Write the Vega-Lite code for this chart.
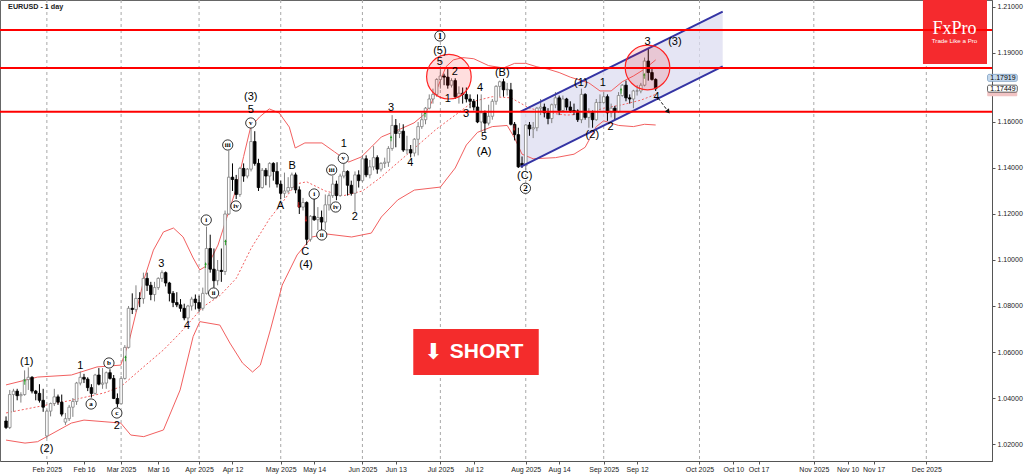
{
"$schema":"https://vega.github.io/schema/vega-lite/v6.json",
"width":992,"height":461,
"autosize":"none",
"padding":{"left":0,"top":0,"right":32,"bottom":13},
"background":"#ffffff",
"config":{"view":{"stroke":"#666666"},"font":"Liberation Sans"},
"datasets":{
"candles":[
{"t":0,"o":1.0300,"h":1.0320,"l":1.0265,"c":1.0272},
{"t":1,"o":1.0272,"h":1.0435,"l":1.0265,"c":1.0415},
{"t":2,"o":1.0415,"h":1.0440,"l":1.0340,"c":1.0430},
{"t":3,"o":1.0430,"h":1.0440,"l":1.0390,"c":1.0410},
{"t":4,"o":1.0410,"h":1.0425,"l":1.0380,"c":1.0415},
{"t":5,"o":1.0415,"h":1.0520,"l":1.0410,"c":1.0480},
{"t":6,"o":1.0480,"h":1.0533,"l":1.0435,"c":1.0490},
{"t":7,"o":1.0490,"h":1.0495,"l":1.0420,"c":1.0430},
{"t":8,"o":1.0430,"h":1.0435,"l":1.0390,"c":1.0420},
{"t":9,"o":1.0420,"h":1.0460,"l":1.0380,"c":1.0390},
{"t":10,"o":1.0390,"h":1.0440,"l":1.0340,"c":1.0360},
{"t":11,"o":1.0235,"h":1.0350,"l":1.0225,"c":1.0343},
{"t":12,"o":1.0343,"h":1.0380,"l":1.0320,"c":1.0376},
{"t":13,"o":1.0376,"h":1.0440,"l":1.0365,"c":1.0405},
{"t":14,"o":1.0405,"h":1.0415,"l":1.0370,"c":1.0382},
{"t":15,"o":1.0382,"h":1.0415,"l":1.0320,"c":1.0330},
{"t":16,"o":1.0295,"h":1.0335,"l":1.0283,"c":1.0310},
{"t":17,"o":1.0310,"h":1.0370,"l":1.0300,"c":1.0360},
{"t":18,"o":1.0360,"h":1.0400,"l":1.0318,"c":1.0385},
{"t":19,"o":1.0385,"h":1.0470,"l":1.0370,"c":1.0465},
{"t":20,"o":1.0465,"h":1.0515,"l":1.0455,"c":1.0490},
{"t":21,"o":1.0490,"h":1.0505,"l":1.0465,"c":1.0482},
{"t":22,"o":1.0482,"h":1.0490,"l":1.0430,"c":1.0445},
{"t":23,"o":1.0445,"h":1.0460,"l":1.0402,"c":1.0420},
{"t":24,"o":1.0420,"h":1.0505,"l":1.0415,"c":1.0500},
{"t":25,"o":1.0500,"h":1.0530,"l":1.0455,"c":1.0460},
{"t":26,"o":1.0460,"h":1.0530,"l":1.0440,"c":1.0465},
{"t":27,"o":1.0465,"h":1.0515,"l":1.0440,"c":1.0510},
{"t":28,"o":1.0510,"h":1.0525,"l":1.0480,"c":1.0485},
{"t":29,"o":1.0485,"h":1.0500,"l":1.0395,"c":1.0398},
{"t":30,"o":1.0398,"h":1.0420,"l":1.0360,"c":1.0375},
{"t":31,"o":1.0375,"h":1.0495,"l":1.0375,"c":1.0485},
{"t":32,"o":1.0485,"h":1.0630,"l":1.0480,"c":1.0620},
{"t":33,"o":1.0620,"h":1.0800,"l":1.0615,"c":1.0790},
{"t":34,"o":1.0790,"h":1.0855,"l":1.0765,"c":1.0785},
{"t":35,"o":1.0785,"h":1.0890,"l":1.0775,"c":1.0833},
{"t":36,"o":1.0833,"h":1.0860,"l":1.0795,"c":1.0832},
{"t":37,"o":1.0832,"h":1.0945,"l":1.0810,"c":1.0920},
{"t":38,"o":1.0920,"h":1.0945,"l":1.0865,"c":1.0890},
{"t":39,"o":1.0890,"h":1.0905,"l":1.0825,"c":1.0850},
{"t":40,"o":1.0850,"h":1.0905,"l":1.0820,"c":1.0880},
{"t":41,"o":1.0880,"h":1.0925,"l":1.0870,"c":1.0920},
{"t":42,"o":1.0920,"h":1.0955,"l":1.0905,"c":1.0945},
{"t":43,"o":1.0945,"h":1.0950,"l":1.0885,"c":1.0900},
{"t":44,"o":1.0900,"h":1.0905,"l":1.0820,"c":1.0855},
{"t":45,"o":1.0855,"h":1.0865,"l":1.0795,"c":1.0815},
{"t":46,"o":1.0815,"h":1.0860,"l":1.0795,"c":1.0805},
{"t":47,"o":1.0805,"h":1.0830,"l":1.0775,"c":1.0790},
{"t":48,"o":1.0790,"h":1.0810,"l":1.0738,"c":1.0748},
{"t":49,"o":1.0748,"h":1.0805,"l":1.0733,"c":1.0800},
{"t":50,"o":1.0800,"h":1.0840,"l":1.0780,"c":1.0830},
{"t":51,"o":1.0830,"h":1.0850,"l":1.0785,"c":1.0815},
{"t":52,"o":1.0815,"h":1.0845,"l":1.0775,"c":1.0790},
{"t":53,"o":1.0790,"h":1.0880,"l":1.0780,"c":1.0855},
{"t":54,"o":1.0855,"h":1.1145,"l":1.0850,"c":1.1050},
{"t":55,"o":1.1050,"h":1.1110,"l":1.0945,"c":1.0960},
{"t":56,"o":1.0960,"h":1.1050,"l":1.0880,"c":1.0910},
{"t":57,"o":1.0910,"h":1.1000,"l":1.0890,"c":1.0955},
{"t":58,"o":1.0955,"h":1.1050,"l":1.0905,"c":1.0950},
{"t":59,"o":1.0950,"h":1.1215,"l":1.0935,"c":1.1200},
{"t":60,"o":1.1200,"h":1.1475,"l":1.1195,"c":1.1360},
{"t":61,"o":1.1360,"h":1.1420,"l":1.1300,"c":1.1350},
{"t":62,"o":1.1350,"h":1.1370,"l":1.1265,"c":1.1285},
{"t":63,"o":1.1285,"h":1.1405,"l":1.1275,"c":1.1398},
{"t":64,"o":1.1398,"h":1.1420,"l":1.1340,"c":1.1365},
{"t":65,"o":1.1365,"h":1.1400,"l":1.1355,"c":1.1395},
{"t":66,"o":1.1395,"h":1.1573,"l":1.1385,"c":1.1515},
{"t":67,"o":1.1515,"h":1.1560,"l":1.1410,"c":1.1420},
{"t":68,"o":1.1420,"h":1.1440,"l":1.1300,"c":1.1315},
{"t":69,"o":1.1315,"h":1.1400,"l":1.1310,"c":1.1390},
{"t":70,"o":1.1390,"h":1.1400,"l":1.1325,"c":1.1365},
{"t":71,"o":1.1365,"h":1.1425,"l":1.1315,"c":1.1420},
{"t":72,"o":1.1420,"h":1.1425,"l":1.1345,"c":1.1385},
{"t":73,"o":1.1385,"h":1.1425,"l":1.1315,"c":1.1330},
{"t":74,"o":1.1330,"h":1.1345,"l":1.1265,"c":1.1290},
{"t":75,"o":1.1290,"h":1.1380,"l":1.1270,"c":1.1300},
{"t":76,"o":1.1300,"h":1.1360,"l":1.1290,"c":1.1315},
{"t":77,"o":1.1315,"h":1.1380,"l":1.1305,"c":1.1370},
{"t":78,"o":1.1370,"h":1.1380,"l":1.1290,"c":1.1305},
{"t":79,"o":1.1305,"h":1.1320,"l":1.1200,"c":1.1230},
{"t":80,"o":1.1230,"h":1.1270,"l":1.1215,"c":1.1250},
{"t":81,"o":1.1250,"h":1.1255,"l":1.1065,"c":1.1090},
{"t":82,"o":1.1090,"h":1.1195,"l":1.1080,"c":1.1190},
{"t":83,"o":1.1190,"h":1.1266,"l":1.1170,"c":1.1175},
{"t":84,"o":1.1175,"h":1.1230,"l":1.1130,"c":1.1185},
{"t":85,"o":1.1185,"h":1.1215,"l":1.1130,"c":1.1165},
{"t":86,"o":1.1165,"h":1.1285,"l":1.1130,"c":1.1240},
{"t":87,"o":1.1240,"h":1.1290,"l":1.1215,"c":1.1280},
{"t":88,"o":1.1280,"h":1.1365,"l":1.1270,"c":1.1330},
{"t":89,"o":1.1330,"h":1.1345,"l":1.1260,"c":1.1280},
{"t":90,"o":1.1280,"h":1.1375,"l":1.1275,"c":1.1365},
{"t":91,"o":1.1365,"h":1.1420,"l":1.1355,"c":1.1385},
{"t":92,"o":1.1385,"h":1.1390,"l":1.1280,"c":1.1325},
{"t":93,"o":1.1325,"h":1.1345,"l":1.1280,"c":1.1290},
{"t":94,"o":1.1290,"h":1.1385,"l":1.1210,"c":1.1370},
{"t":95,"o":1.1370,"h":1.1390,"l":1.1315,"c":1.1345},
{"t":96,"o":1.1345,"h":1.1455,"l":1.1340,"c":1.1440},
{"t":97,"o":1.1440,"h":1.1455,"l":1.1360,"c":1.1370},
{"t":98,"o":1.1370,"h":1.1435,"l":1.1355,"c":1.1405},
{"t":99,"o":1.1405,"h":1.1495,"l":1.1390,"c":1.1445},
{"t":100,"o":1.1445,"h":1.1455,"l":1.1375,"c":1.1395},
{"t":101,"o":1.1395,"h":1.1425,"l":1.1385,"c":1.1420},
{"t":102,"o":1.1420,"h":1.1445,"l":1.1400,"c":1.1425},
{"t":103,"o":1.1425,"h":1.1495,"l":1.1405,"c":1.1485},
{"t":104,"o":1.1485,"h":1.1630,"l":1.1475,"c":1.1585},
{"t":105,"o":1.1585,"h":1.1613,"l":1.1490,"c":1.1550},
{"t":106,"o":1.1550,"h":1.1595,"l":1.1530,"c":1.1560},
{"t":107,"o":1.1560,"h":1.1590,"l":1.1470,"c":1.1478},
{"t":108,"o":1.1478,"h":1.1540,"l":1.1460,"c":1.1480},
{"t":109,"o":1.1480,"h":1.1500,"l":1.1446,"c":1.1465},
{"t":110,"o":1.1465,"h":1.1530,"l":1.1450,"c":1.1525},
{"t":111,"o":1.1525,"h":1.1600,"l":1.1455,"c":1.1580},
{"t":112,"o":1.1580,"h":1.1640,"l":1.1570,"c":1.1610},
{"t":113,"o":1.1610,"h":1.1665,"l":1.1590,"c":1.1660},
{"t":114,"o":1.1660,"h":1.1720,"l":1.1655,"c":1.1700},
{"t":115,"o":1.1700,"h":1.1745,"l":1.1680,"c":1.1720},
{"t":116,"o":1.1720,"h":1.1790,"l":1.1710,"c":1.1785},
{"t":117,"o":1.1785,"h":1.1830,"l":1.1745,"c":1.1800},
{"t":118,"o":1.1800,"h":1.1810,"l":1.1760,"c":1.1795},
{"t":119,"o":1.1795,"h":1.1830,"l":1.1745,"c":1.1760},
{"t":120,"o":1.1760,"h":1.1790,"l":1.1750,"c":1.1780},
{"t":121,"o":1.1780,"h":1.1790,"l":1.1700,"c":1.1710},
{"t":122,"o":1.1710,"h":1.1755,"l":1.1680,"c":1.1725},
{"t":123,"o":1.1725,"h":1.1750,"l":1.1680,"c":1.1720},
{"t":124,"o":1.1720,"h":1.1750,"l":1.1685,"c":1.1700},
{"t":125,"o":1.1700,"h":1.1720,"l":1.1660,"c":1.1690},
{"t":126,"o":1.1690,"h":1.1700,"l":1.1650,"c":1.1665},
{"t":127,"o":1.1665,"h":1.1720,"l":1.1595,"c":1.1600},
{"t":128,"o":1.1600,"h":1.1720,"l":1.1556,"c":1.1640},
{"t":129,"o":1.1640,"h":1.1650,"l":1.1555,"c":1.1595},
{"t":130,"o":1.1595,"h":1.1675,"l":1.1585,"c":1.1625},
{"t":131,"o":1.1625,"h":1.1700,"l":1.1610,"c":1.1690},
{"t":132,"o":1.1690,"h":1.1760,"l":1.1675,"c":1.1755},
{"t":133,"o":1.1755,"h":1.1780,"l":1.1710,"c":1.1775},
{"t":134,"o":1.1775,"h":1.1788,"l":1.1710,"c":1.1740},
{"t":135,"o":1.1740,"h":1.1770,"l":1.1715,"c":1.1742},
{"t":136,"o":1.1740,"h":1.1770,"l":1.1585,"c":1.1590},
{"t":137,"o":1.1590,"h":1.1600,"l":1.1520,"c":1.1545},
{"t":138,"o":1.1545,"h":1.1575,"l":1.1400,"c":1.1405},
{"t":139,"o":1.1420,"h":1.1450,"l":1.1400,"c":1.1410},
{"t":140,"o":1.1410,"h":1.1590,"l":1.1392,"c":1.1587},
{"t":141,"o":1.1587,"h":1.1600,"l":1.1540,"c":1.1570},
{"t":142,"o":1.1570,"h":1.1600,"l":1.1530,"c":1.1575},
{"t":143,"o":1.1575,"h":1.1665,"l":1.1560,"c":1.1660},
{"t":144,"o":1.1660,"h":1.1700,"l":1.1630,"c":1.1665},
{"t":145,"o":1.1665,"h":1.1680,"l":1.1620,"c":1.1640},
{"t":146,"o":1.1640,"h":1.1660,"l":1.1590,"c":1.1615},
{"t":147,"o":1.1615,"h":1.1680,"l":1.1595,"c":1.1675},
{"t":148,"o":1.1675,"h":1.1730,"l":1.1660,"c":1.1705},
{"t":149,"o":1.1705,"h":1.1715,"l":1.1630,"c":1.1650},
{"t":150,"o":1.1650,"h":1.1715,"l":1.1645,"c":1.1700},
{"t":151,"o":1.1700,"h":1.1705,"l":1.1650,"c":1.1665},
{"t":152,"o":1.1665,"h":1.1690,"l":1.1640,"c":1.1650},
{"t":153,"o":1.1650,"h":1.1680,"l":1.1630,"c":1.1648},
{"t":154,"o":1.1648,"h":1.1655,"l":1.1600,"c":1.1610},
{"t":155,"o":1.1610,"h":1.1745,"l":1.1595,"c":1.1720},
{"t":156,"o":1.1720,"h":1.1725,"l":1.1610,"c":1.1620},
{"t":157,"o":1.1620,"h":1.1660,"l":1.1575,"c":1.1640},
{"t":158,"o":1.1640,"h":1.1650,"l":1.1575,"c":1.1610},
{"t":159,"o":1.1610,"h":1.1700,"l":1.1605,"c":1.1685},
{"t":160,"o":1.1685,"h":1.1720,"l":1.1650,"c":1.1685},
{"t":161,"o":1.1685,"h":1.1730,"l":1.1680,"c":1.1710},
{"t":162,"o":1.1710,"h":1.1720,"l":1.1605,"c":1.1640},
{"t":163,"o":1.1640,"h":1.1680,"l":1.1620,"c":1.1660},
{"t":164,"o":1.1660,"h":1.1670,"l":1.1610,"c":1.1645},
{"t":165,"o":1.1645,"h":1.1730,"l":1.1640,"c":1.1715},
{"t":166,"o":1.1715,"h":1.1765,"l":1.1710,"c":1.1760},
{"t":167,"o":1.1760,"h":1.1780,"l":1.1690,"c":1.1705},
{"t":168,"o":1.1705,"h":1.1720,"l":1.1680,"c":1.1700},
{"t":169,"o":1.1700,"h":1.1740,"l":1.1660,"c":1.1735},
{"t":170,"o":1.1735,"h":1.1760,"l":1.1715,"c":1.1735},
{"t":171,"o":1.1735,"h":1.1770,"l":1.1725,"c":1.1760},
{"t":172,"o":1.1760,"h":1.1880,"l":1.1755,"c":1.1865},
{"t":173,"o":1.1865,"h":1.1918,"l":1.1780,"c":1.1815},
{"t":174,"o":1.1815,"h":1.1830,"l":1.1780,"c":1.1785},
{"t":175,"o":1.1785,"h":1.1790,"l":1.1735,"c":1.1745}
],
"bands":[
{"b":"u","t":0,"p":1.0457},{"b":"u","t":8.5,"p":1.0491},{"b":"u","t":17.6,"p":1.0500},{"b":"u","t":24.5,"p":1.0535},{"b":"u","t":30.9,"p":1.0543},{"b":"u","t":33.1,"p":1.0643},{"b":"u","t":35.2,"p":1.0783},{"b":"u","t":37.1,"p":1.0913},{"b":"u","t":39.7,"p":1.1043},{"b":"u","t":42.4,"p":1.1122},{"b":"u","t":45.1,"p":1.1139},{"b":"u","t":47.7,"p":1.1100},{"b":"u","t":50.4,"p":1.1009},{"b":"u","t":52.2,"p":1.0957},{"b":"u","t":54.4,"p":1.0978},{"b":"u","t":57.1,"p":1.1065},{"b":"u","t":59.7,"p":1.1196},{"b":"u","t":61.9,"p":1.1304},{"b":"u","t":64,"p":1.1450},{"b":"u","t":65.9,"p":1.1578},{"b":"u","t":68.3,"p":1.1622},{"b":"u","t":70.9,"p":1.1657},{"b":"u","t":73.6,"p":1.1639},{"b":"u","t":76.3,"p":1.1578},{"b":"u","t":77.9,"p":1.1487},{"b":"u","t":80.5,"p":1.1509},{"b":"u","t":85.1,"p":1.1509},{"b":"u","t":88.5,"p":1.1470},{"b":"u","t":92.3,"p":1.1426},{"b":"u","t":95.7,"p":1.1448},{"b":"u","t":98.4,"p":1.1491},{"b":"u","t":101.1,"p":1.1535},{"b":"u","t":105.6,"p":1.1565},{"b":"u","t":109.9,"p":1.1596},{"b":"u","t":112.8,"p":1.1635},{"b":"u","t":114.5,"p":1.1680},{"b":"u","t":116.5,"p":1.1760},{"b":"u","t":118.5,"p":1.1840},{"b":"u","t":120.5,"p":1.1870},{"b":"u","t":123,"p":1.1880},{"b":"u","t":126,"p":1.1875},{"b":"u","t":130,"p":1.1845},{"b":"u","t":134,"p":1.1835},{"b":"u","t":137,"p":1.1855},{"b":"u","t":140,"p":1.1855},{"b":"u","t":143,"p":1.1840},{"b":"u","t":146,"p":1.1830},{"b":"u","t":149,"p":1.1815},{"b":"u","t":152,"p":1.1795},{"b":"u","t":155,"p":1.1780},{"b":"u","t":157,"p":1.1770},{"b":"u","t":160,"p":1.1735},{"b":"u","t":163,"p":1.1735},{"b":"u","t":166,"p":1.1775},{"b":"u","t":169,"p":1.1800},{"b":"u","t":172,"p":1.1830},{"b":"u","t":175,"p":1.1870},
{"b":"l","t":0,"p":1.0217},{"b":"l","t":5.1,"p":1.0204},{"b":"l","t":8.5,"p":1.0210},{"b":"l","t":17.6,"p":1.0291},{"b":"l","t":21,"p":1.0304},{"b":"l","t":26.4,"p":1.0297},{"b":"l","t":30.9,"p":1.0291},{"b":"l","t":33.6,"p":1.0239},{"b":"l","t":37.1,"p":1.0232},{"b":"l","t":42.4,"p":1.0261},{"b":"l","t":46.9,"p":1.0435},{"b":"l","t":50.4,"p":1.0667},{"b":"l","t":52.2,"p":1.0732},{"b":"l","t":57.6,"p":1.0717},{"b":"l","t":60.3,"p":1.0639},{"b":"l","t":63.7,"p":1.0552},{"b":"l","t":66.4,"p":1.0513},{"b":"l","t":68.5,"p":1.0543},{"b":"l","t":71.2,"p":1.0696},{"b":"l","t":74.4,"p":1.0891},{"b":"l","t":78.4,"p":1.1022},{"b":"l","t":82.4,"p":1.1100},{"b":"l","t":86.4,"p":1.1113},{"b":"l","t":93.1,"p":1.1100},{"b":"l","t":98.4,"p":1.1117},{"b":"l","t":101.1,"p":1.1187},{"b":"l","t":105.5,"p":1.1261},{"b":"l","t":110,"p":1.1304},{"b":"l","t":117,"p":1.1317},{"b":"l","t":121,"p":1.1400},{"b":"l","t":124,"p":1.1500},{"b":"l","t":127,"p":1.1555},{"b":"l","t":131,"p":1.1580},{"b":"l","t":135,"p":1.1585},{"b":"l","t":137,"p":1.1530},{"b":"l","t":139,"p":1.1460},{"b":"l","t":142,"p":1.1440},{"b":"l","t":148,"p":1.1445},{"b":"l","t":153,"p":1.1460},{"b":"l","t":156,"p":1.1490},{"b":"l","t":159,"p":1.1580},{"b":"l","t":161,"p":1.1605},{"b":"l","t":165,"p":1.1585},{"b":"l","t":169,"p":1.1580},{"b":"l","t":172,"p":1.1590},{"b":"l","t":175,"p":1.1587},
{"b":"m","t":0,"p":1.0335},{"b":"m","t":8.5,"p":1.0362},{"b":"m","t":17.6,"p":1.0390},{"b":"m","t":26.4,"p":1.0422},{"b":"m","t":30.9,"p":1.0449},{"b":"m","t":37.1,"p":1.0536},{"b":"m","t":42.4,"p":1.0609},{"b":"m","t":46.9,"p":1.0683},{"b":"m","t":53.1,"p":1.0797},{"b":"m","t":57.6,"p":1.0845},{"b":"m","t":62,"p":1.0920},{"b":"m","t":66,"p":1.1050},{"b":"m","t":71,"p":1.1180},{"b":"m","t":74,"p":1.1240},{"b":"m","t":78,"p":1.1330},{"b":"m","t":81,"p":1.1340},{"b":"m","t":86,"p":1.1300},{"b":"m","t":91,"p":1.1280},{"b":"m","t":96,"p":1.1300},{"b":"m","t":101,"p":1.1360},{"b":"m","t":106,"p":1.1430},{"b":"m","t":111,"p":1.1500},{"b":"m","t":116,"p":1.1570},{"b":"m","t":121,"p":1.1630},{"b":"m","t":126,"p":1.1690},{"b":"m","t":131,"p":1.1710},{"b":"m","t":136,"p":1.1705},{"b":"m","t":141,"p":1.1660},{"b":"m","t":146,"p":1.1640},{"b":"m","t":151,"p":1.1630},{"b":"m","t":156,"p":1.1635},{"b":"m","t":161,"p":1.1660},{"b":"m","t":166,"p":1.1675},{"b":"m","t":171,"p":1.1695},{"b":"m","t":175,"p":1.1720}
],
"months":[{"t":11},{"t":31},{"t":52},{"t":74},{"t":96},{"t":117},{"t":140},{"t":161},{"t":186.8},{"t":217.6},{"t":247.9}],
"levels":[{"p":1.2000},{"p":1.1835},{"p":1.1645}],
"chan":[{"t":138.6,"lo":1.1405,"hi":1.1645},{"t":193.05,"lo":1.1842,"hi":1.2080}],
"chanlines":[{"t":138.6,"p":1.1645,"t2":193.05,"p2":1.2080},{"t":138.6,"p":1.1405,"t2":193.05,"p2":1.1842}],
"rings":[{"t":119.3,"p":1.1797},{"t":172.8,"p":1.1837}],
"sigs":[
{"t":5.05,"p":1.0471,"d":"up"},{"t":32.17,"p":1.0573,"d":"up"},{"t":53.77,"p":1.0978,"d":"up"},{"t":59.11,"p":1.1077,"d":"up"},{"t":103.72,"p":1.1529,"d":"up"},{"t":112.87,"p":1.1633,"d":"up"},{"t":165.67,"p":1.1736,"d":"up"},{"t":171.91,"p":1.1801,"d":"up"},
{"t":78.84,"p":1.1239,"d":"down"},{"t":80.79,"p":1.1177,"d":"down"},{"t":136.87,"p":1.1573,"d":"down"}
],
"labels":[
{"t":5.59,"p":1.05565,"s":"(1)"},{"t":10.92,"p":1.01783,"s":"(2)"},{"t":19.99,"p":1.05391,"s":"1"},{"t":29.85,"p":1.02783,"s":"2"},{"t":41.85,"p":1.09826,"s":"3"},{"t":48.79,"p":1.0713,"s":"4"},{"t":65.93,"p":1.16522,"s":"5"},{"t":65.93,"p":1.17087,"s":"(3)"},{"t":73.93,"p":1.12348,"s":"A"},{"t":77.05,"p":1.14087,"s":"B"},{"t":80.6,"p":1.10348,"s":"C"},{"t":80.79,"p":1.09783,"s":"(4)"},{"t":91.0,"p":1.1503,"s":"1"},{"t":93.93,"p":1.11857,"s":"2"},{"t":103.72,"p":1.16596,"s":"3"},{"t":108.87,"p":1.14204,"s":"4"},{"t":116.87,"p":1.191,"s":"(5)"},{"t":116.87,"p":1.18596,"s":"5"},{"t":120.87,"p":1.18187,"s":"2"},{"t":119.0,"p":1.16987,"s":"1"},{"t":123.91,"p":1.16348,"s":"3"},{"t":127.72,"p":1.17491,"s":"4"},{"t":128.79,"p":1.15335,"s":"5"},{"t":128.79,"p":1.14709,"s":"(A)"},{"t":133.67,"p":1.18143,"s":"(B)"},{"t":139.72,"p":1.13665,"s":"(C)"},{"t":154.84,"p":1.17683,"s":"(1)"},{"t":160.79,"p":1.17683,"s":"1"},{"t":157.93,"p":1.15435,"s":"(2)"},{"t":162.84,"p":1.1577,"s":"2"},{"t":172.79,"p":1.19491,"s":"3"},{"t":180.17,"p":1.19491,"s":"(3)"},{"t":175.27,"p":1.17074,"s":"4"}
],
"clabels":[
{"t":22.92,"p":1.03739,"s":"a"},{"t":27.72,"p":1.05522,"s":"b"},{"t":29.85,"p":1.03348,"s":"c"},{"t":53.93,"p":1.11739,"s":"i"},{"t":55.91,"p":1.08565,"s":"ii"},{"t":59.72,"p":1.15,"s":"iii"},{"t":61.93,"p":1.12348,"s":"iv"},{"t":65.93,"p":1.15957,"s":"v"},{"t":83.0,"p":1.1287,"s":"i"},{"t":85.05,"p":1.11087,"s":"ii"},{"t":87.72,"p":1.13913,"s":"iii"},{"t":88.79,"p":1.12304,"s":"iv"},{"t":90.84,"p":1.14422,"s":"v"},{"t":116.87,"p":1.19739,"s":"1"},{"t":139.91,"p":1.13117,"s":"2"}
],
"arrow":[{"t":175.72,"p":1.1703,"t2":178.39,"p2":1.16448}],
"logo":[{"t1":247.0,"t2":264.25,"p1":1.18522,"p2":1.21304}],
"logobig":[{"t":255.5,"p":1.2005,"s":"FxPro"}],
"logosmall":[{"t":255.5,"p":1.1950,"s":"Trade Like a Pro"}],
"short":[{"t1":109.7,"t2":143.5,"p1":1.05,"p2":1.07}],
"shortarrow":[{"t":115.05,"p":1.0600,"s":"⬇"}],
"shortword":[{"t":129.45,"p":1.0600,"s":"SHORT"}],
"tags":[{"p":1.17919,"s":"1.17919","k":"blue"},{"p":1.17449,"s":"1.17449","k":"white"}],
"pinktag":[{"p":1.17225}],
"title":[{"t":0.55,"p":1.2101,"s":"EURUSD - 1 day"}]
},
"layer":[
{"data":{"name":"months"},"mark":{"type":"rule","color":"#a8a8a8","strokeWidth":1,"strokeDash":[3,3]},
 "encoding":{"x":{"field":"t","type":"quantitative","title":null}}},
{"data":{"name":"chan"},"mark":{"type":"area","color":"#dcdcf0","opacity":0.75},
 "encoding":{"x":{"field":"t","type":"quantitative","title":null},"y":{"field":"hi","type":"quantitative","title":null},"y2":{"field":"lo"}}},
{"data":{"name":"bands"},"transform":[{"filter":"datum.b != 'm'"}],"mark":{"type":"line","color":"#f26060","strokeWidth":1},
 "encoding":{"x":{"field":"t","type":"quantitative","title":null},"y":{"field":"p","type":"quantitative","title":null},"detail":{"field":"b"}}},
{"data":{"name":"bands"},"transform":[{"filter":"datum.b == 'm'"}],"mark":{"type":"line","color":"#f26060","strokeWidth":1,"strokeDash":[2,2]},
 "encoding":{"x":{"field":"t","type":"quantitative","title":null},"y":{"field":"p","type":"quantitative","title":null}}},
{"data":{"name":"candles"},"mark":{"type":"rule","strokeWidth":1},
 "encoding":{
  "x":{"field":"t","type":"quantitative","title":null,"scale":{"domain":[-0.28,264.25],"nice":false,"zero":false},
   "axis":{"orient":"bottom","grid":false,"values":[11,21,31,41,52,61,74,83,96,105,117,126,140,149,161,170,186.8,195.9,202.7,217.6,226.7,233.7,247.9],
    "labelExpr":"['Feb 2025','Feb 16','Mar 2025','Mar 16','Apr 2025','Apr 12','May 2025','May 14','Jun 2025','Jun 13','Jul 2025','Jul 12','Aug 2025','Aug 14','Sep 2025','Sep 12','Oct 2025','Oct 10','Oct 17','Nov 2025','Nov 10','Nov 17','Dec 2025'][indexof([11,21,31,41,52,61,74,83,96,105,117,126,140,149,161,170,186.8,195.9,202.7,217.6,226.7,233.7,247.9], datum.value)]",
    "labelFontSize":7,"labelColor":"#222222","labelPadding":1,"tickSize":3,"tickColor":"#555555","domainColor":"#555555","labelFlush":false,"labelOverlap":false}},
  "y":{"field":"l","type":"quantitative","title":null,"scale":{"domain":[1.01261,1.21304],"nice":false,"zero":false},
   "axis":{"orient":"right","grid":false,"values":[1.02,1.03,1.04,1.05,1.06,1.07,1.08,1.09,1.1,1.11,1.12,1.13,1.14,1.15,1.16,1.17,1.19,1.2,1.21],"format":".5f",
    "labelFontSize":7,"labelColor":"#222222","labelPadding":2,"tickSize":3,"tickColor":"#555555","domainColor":"#555555","labelFlush":false,"labelOverlap":false}},
  "y2":{"field":"h"},
  "color":{"condition":{"test":"datum.c >= datum.o","value":"#808080"},"value":"#000000"}}},
{"data":{"name":"candles"},"mark":{"type":"bar","width":2.6,"strokeWidth":0.8},
 "encoding":{"x":{"field":"t","type":"quantitative","title":null},"y":{"field":"o","type":"quantitative","title":null},"y2":{"field":"c"},
  "fill":{"condition":{"test":"datum.c >= datum.o","value":"#ffffff"},"value":"#000000"},
  "stroke":{"condition":{"test":"datum.c >= datum.o","value":"#808080"},"value":"#000000"}}},
{"data":{"name":"sigs"},"mark":{"type":"point","shape":"arrow","filled":true,"size":35,"opacity":1},
 "encoding":{"x":{"field":"t","type":"quantitative","title":null},"y":{"field":"p","type":"quantitative","title":null},
  "color":{"condition":{"test":"datum.d == 'up'","value":"#1f9a1f"},"value":"#c81e1e"},
  "angle":{"condition":{"test":"datum.d == 'down'","value":180},"value":0}}},
{"data":{"name":"chanlines"},"mark":{"type":"rule","color":"#3434a4","strokeWidth":2},
 "encoding":{"x":{"field":"t","type":"quantitative","title":null},"y":{"field":"p","type":"quantitative","title":null},"x2":{"field":"t2"},"y2":{"field":"p2"}}},
{"data":{"name":"logo"},"mark":{"type":"rect","color":"#f52a2e"},
 "encoding":{"x":{"field":"t1","type":"quantitative","title":null},"x2":{"field":"t2"},"y":{"field":"p1","type":"quantitative","title":null},"y2":{"field":"p2"}}},
{"data":{"name":"levels"},"mark":{"type":"rule","color":"#ff0000","strokeWidth":2},
 "encoding":{"y":{"field":"p","type":"quantitative","title":null}}},
{"data":{"name":"logobig"},"mark":{"type":"text","color":"#ffffff","align":"center","baseline":"middle","font":"Liberation Serif","fontSize":18},
 "encoding":{"x":{"field":"t","type":"quantitative","title":null},"y":{"field":"p","type":"quantitative","title":null},"text":{"field":"s"}}},
{"data":{"name":"logosmall"},"mark":{"type":"text","color":"#ffffff","align":"center","baseline":"middle","font":"Liberation Sans","fontSize":6.2},
 "encoding":{"x":{"field":"t","type":"quantitative","title":null},"y":{"field":"p","type":"quantitative","title":null},"text":{"field":"s"}}},
{"data":{"name":"rings"},"mark":{"type":"point","shape":"circle","size":1990,"fill":"#ff0000","fillOpacity":0.13,"stroke":"#ff2222","strokeWidth":1.2,"opacity":1},
 "encoding":{"x":{"field":"t","type":"quantitative","title":null},"y":{"field":"p","type":"quantitative","title":null}}},
{"data":{"name":"arrow"},"mark":{"type":"rule","color":"#111111","strokeWidth":1,"strokeDash":[3,2]},
 "encoding":{"x":{"field":"t","type":"quantitative","title":null},"y":{"field":"p","type":"quantitative","title":null},"x2":{"field":"t2"},"y2":{"field":"p2"}}},
{"data":{"name":"arrow"},"mark":{"type":"point","shape":"triangle-down","filled":true,"size":28,"color":"#111111","angle":323,"opacity":1},
 "encoding":{"x":{"field":"t2","type":"quantitative","title":null},"y":{"field":"p2","type":"quantitative","title":null}}},
{"data":{"name":"labels"},"mark":{"type":"text","font":"Liberation Sans","fontSize":11,"color":"#000000","align":"center","baseline":"middle"},
 "encoding":{"x":{"field":"t","type":"quantitative","title":null},"y":{"field":"p","type":"quantitative","title":null},"text":{"field":"s"}}},
{"data":{"name":"clabels"},"mark":{"type":"point","shape":"circle","size":105,"fill":"#ffffff","fillOpacity":1,"stroke":"#000000","strokeWidth":0.8,"opacity":1},
 "encoding":{"x":{"field":"t","type":"quantitative","title":null},"y":{"field":"p","type":"quantitative","title":null}}},
{"data":{"name":"clabels"},"mark":{"type":"text","font":"Liberation Serif","fontWeight":"bold","color":"#000000","align":"center","baseline":"middle"},
 "encoding":{"x":{"field":"t","type":"quantitative","title":null},"y":{"field":"p","type":"quantitative","title":null},"text":{"field":"s"},
  "size":{"condition":{"test":"datum.s == '1' || datum.s == '2'","value":9},"value":7}}},
{"data":{"name":"short"},"mark":{"type":"rect","color":"#f42c2c"},
 "encoding":{"x":{"field":"t1","type":"quantitative","title":null},"x2":{"field":"t2"},"y":{"field":"p1","type":"quantitative","title":null},"y2":{"field":"p2"}}},
{"data":{"name":"shortarrow"},"mark":{"type":"text","color":"#ffffff","align":"center","baseline":"middle","font":"DejaVu Sans","fontSize":22},
 "encoding":{"x":{"field":"t","type":"quantitative","title":null},"y":{"field":"p","type":"quantitative","title":null},"text":{"field":"s"}}},
{"data":{"name":"shortword"},"mark":{"type":"text","color":"#ffffff","align":"center","baseline":"middle","font":"Liberation Sans","fontWeight":"bold","fontSize":21},
 "encoding":{"x":{"field":"t","type":"quantitative","title":null},"y":{"field":"p","type":"quantitative","title":null},"text":{"field":"s"}}},
{"data":{"name":"pinktag"},"mark":{"type":"rect","color":"#f2c4c4","cornerRadius":1,"height":5},
 "encoding":{"x":{"datum":264.3,"type":"quantitative"},"x2":{"datum":272.4},"y":{"field":"p","type":"quantitative","title":null}}},
{"data":{"name":"tags"},"mark":{"type":"rect","cornerRadius":1.5,"strokeWidth":0.8,"height":7},
 "encoding":{"x":{"datum":264.4,"type":"quantitative"},"x2":{"datum":272.4},"y":{"field":"p","type":"quantitative","title":null},
  "fill":{"condition":{"test":"datum.k == 'blue'","value":"#c6daee"},"value":"#ffffff"},
  "stroke":{"condition":{"test":"datum.k == 'blue'","value":"#7a9cc0"},"value":"#333333"}}},
{"data":{"name":"tags"},"mark":{"type":"text","font":"Liberation Sans","fontSize":7,"color":"#000000","align":"left","baseline":"middle","dx":2},
 "encoding":{"x":{"datum":264.6,"type":"quantitative"},"y":{"field":"p","type":"quantitative","title":null},"text":{"field":"s"}}},
{"data":{"name":"title"},"mark":{"type":"text","font":"Liberation Sans","fontSize":7.2,"fontWeight":"bold","color":"#222222","align":"left","baseline":"middle"},
 "encoding":{"x":{"field":"t","type":"quantitative","title":null},"y":{"field":"p","type":"quantitative","title":null},"text":{"field":"s"}}}
]
}
